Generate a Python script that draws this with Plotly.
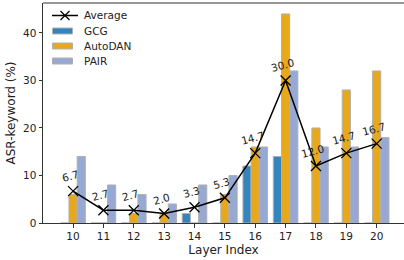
import plotly.graph_objects as go

layers = [10, 11, 12, 13, 14, 15, 16, 17, 18, 19, 20]
gcg = [0, 0, 0, 0, 2, 0, 12, 14, 0, 0, 0]
autodan = [6, 0, 2, 2, 0, 6, 16, 44, 20, 28, 32]
pair = [14, 8, 6, 4, 8, 10, 16, 32, 16, 16, 18]
average = [round((a + b + c) / 3, 1) for a, b, c in zip(gcg, autodan, pair)]
avg_labels = [f"{v:.1f}" for v in average]

font = "DejaVu Sans"
edge = dict(color="#b0b0b0", width=1)
colors = {"GCG": "#3484bd", "AutoDAN": "#e8a81c", "PAIR": "#97a8d2"}

W, H = 404, 260
ML, MR, MT, MB = 43, 0, 3, 37
PW, PH = W - ML - MR, H - MT - MB


def px(x):
    return (x - ML) / PW


def py(y):
    return (H - MB - y) / PH


fig = go.Figure()
fig.add_trace(go.Bar(x=layers, y=gcg, name="GCG", marker=dict(color=colors["GCG"], line=edge)))
fig.add_trace(go.Bar(x=layers, y=autodan, name="AutoDAN", marker=dict(color=colors["AutoDAN"], line=edge)))
fig.add_trace(go.Bar(x=layers, y=pair, name="PAIR", marker=dict(color=colors["PAIR"], line=edge)))
fig.add_trace(go.Scatter(x=layers, y=average, name="Average", mode="lines+markers",
                         line=dict(color="black", width=1.5),
                         marker=dict(symbol="x-thin", size=10, line=dict(color="black", width=1.3))))

for x, y, t in zip(layers, average, avg_labels):
    fig.add_annotation(x=x, y=y, text=t, showarrow=False, textangle=-15,
                       xshift=-3, yshift=15, font=dict(family=font, size=10.5, color="#222"))

# top frame line
fig.add_shape(type="line", xref="paper", yref="paper", x0=0, x1=1, y0=1, y1=1,
              line=dict(color="#333", width=1))

# manual legend (matplotlib-like compact layout)
legend_names = ["Average", "GCG", "AutoDAN", "PAIR"]
legend_y = [15.5, 31, 46, 61]
for name, ly in zip(legend_names, legend_y):
    if name == "Average":
        fig.add_shape(type="line", xref="paper", yref="paper", x0=px(52), x1=px(78), y0=py(ly), y1=py(ly),
                      line=dict(color="black", width=1.5))
        fig.add_shape(type="line", xref="paper", yref="paper", x0=px(60.5), x1=px(69.5),
                      y0=py(ly - 4.5), y1=py(ly + 4.5), line=dict(color="black", width=1.3))
        fig.add_shape(type="line", xref="paper", yref="paper", x0=px(60.5), x1=px(69.5),
                      y0=py(ly + 4.5), y1=py(ly - 4.5), line=dict(color="black", width=1.3))
    else:
        fig.add_shape(type="rect", xref="paper", yref="paper", x0=px(52.5), x1=px(72.5),
                      y0=py(ly - 3), y1=py(ly + 3), fillcolor=colors[name],
                      line=dict(color="#b0b0b0", width=1))
    fig.add_annotation(xref="paper", yref="paper", x=px(82), y=py(ly), text=name, showarrow=False,
                       xanchor="left", yanchor="middle", font=dict(family=font, size=10.5, color="#222"))

fig.update_layout(
    width=W, height=H,
    margin=dict(l=ML, r=MR, t=MT, b=MB),
    plot_bgcolor="white", paper_bgcolor="white",
    barmode="group", bargap=0.19, bargroupgap=0,
    font=dict(family=font, size=10.5, color="#222"),
    showlegend=False,
    xaxis=dict(range=[9.01, 20.90], tickmode="array", tickvals=layers, ticktext=[str(v) for v in layers],
               showline=True, linecolor="#333", linewidth=1, ticks="outside", ticklen=3.5,
               tickcolor="#333", showgrid=False, zeroline=False,
               title=dict(text="Layer Index", font=dict(size=12), standoff=4)),
    yaxis=dict(range=[0, 46.3], tickvals=[0, 10, 20, 30, 40],
               showline=True, linecolor="#333", linewidth=1, ticks="outside", ticklen=3.5,
               tickcolor="#333", showgrid=False, zeroline=False,
               title=dict(text="ASR-keyword (%)", font=dict(size=12), standoff=4)),
)

fig.write_html("out.html", config={"displayModeBar": False},
               post_script="document.body.style.margin='0';")
